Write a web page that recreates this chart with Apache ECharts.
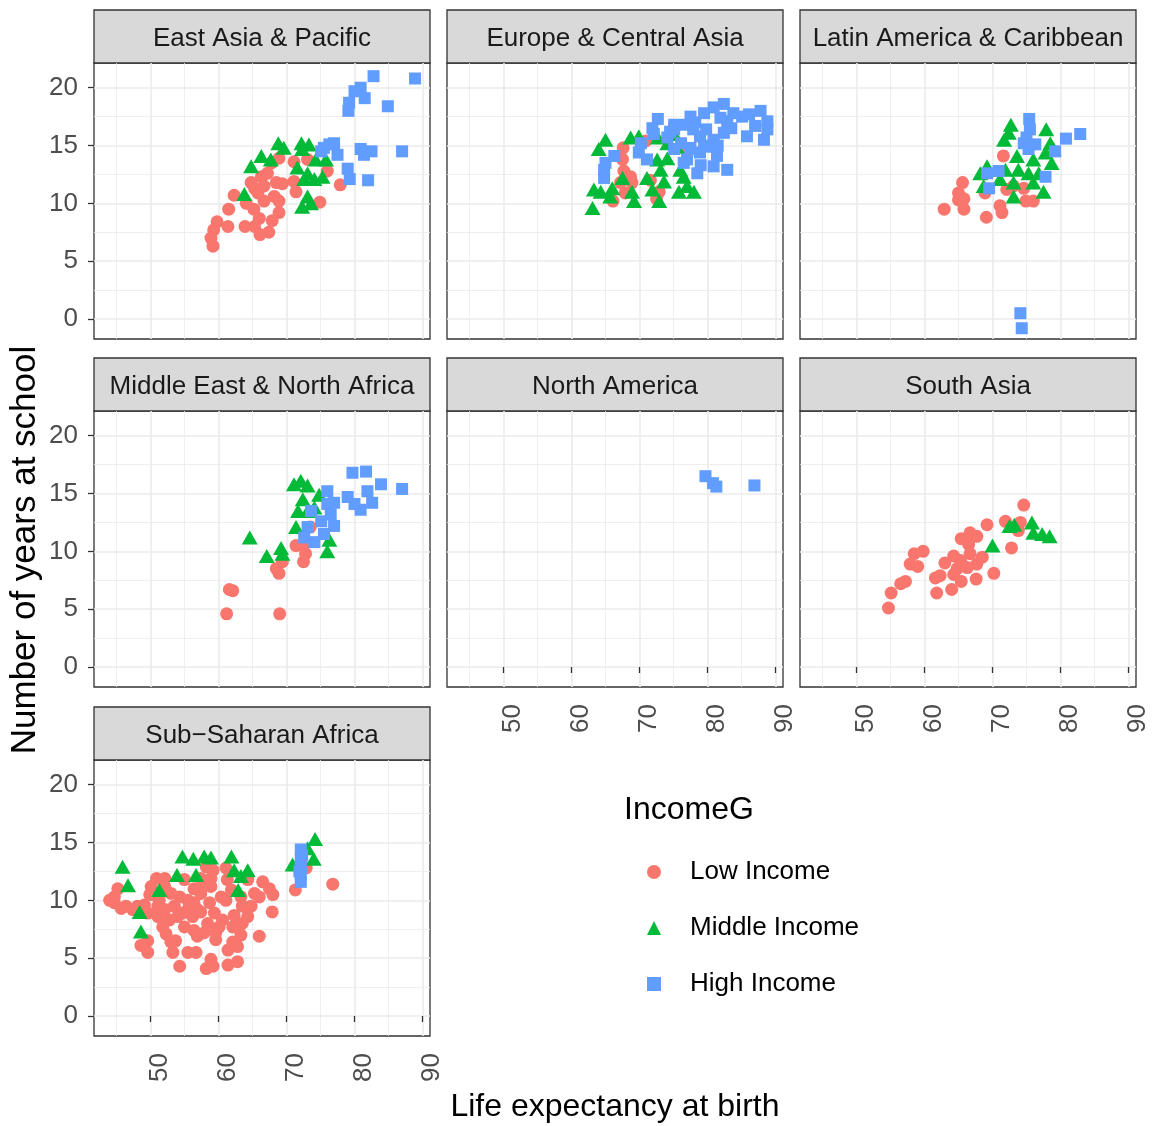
<!DOCTYPE html>
<html>
<head>
<meta charset="utf-8">
<script src="https://cdn.jsdelivr.net/npm/echarts@6/dist/echarts.min.js"></script>
<style>
  html, body { margin: 0; padding: 0; background: #fff; }
  #chart { width: 1155px; height: 1126px; }
</style>
</head>
<body>
<div id="chart"></div>
<script>
// facet labels and groups
var regions = ['East Asia & Pacific', 'Europe & Central Asia', 'Latin America & Caribbean',
               'Middle East & North Africa', 'North America', 'South Asia', 'Sub\u2212Saharan Africa'];
var incomeGroups = ['Low Income', 'Middle Income', 'High Income'];
var xTicks = [50, 60, 70, 80, 90];
var xMinor = [45, 55, 65, 75, 85];
var yTicks = [0, 5, 10, 15, 20];
var yMinor = [2.5, 7.5, 12.5, 17.5];

// [life expectancy, years at school]
var eapLow = [[59.2,6.3],[58.9,7.0],[59.3,7.7],[59.8,8.4],[61.4,8.0],[62.3,10.7],[61.5,9.5],[63.9,8.0],[66.1,7.3],[67.4,7.5],[67.9,8.5],[65.3,8.0],[65.2,9.5],[66.0,8.7],[64.1,10.0],[66.7,10.2],[68.9,9.2],[68.9,10.2],[65.3,11.3],[66.3,12.3],[67.8,13.5],[68.5,11.8],[67.2,12.6],[69.4,11.7],[68.9,13.9],[71.1,13.6],[71.4,11.0],[71.1,11.9],[73.1,13.8],[76.0,12.8],[77.9,11.6],[74.9,10.1],[65.8,10.9],[64.8,11.8],[68.2,10.6],[66.7,11.5]];
var eapMid = [[68.8,15.2],[69.6,14.8],[72.2,15.2],[73.3,15.1],[66.3,14.1],[64.8,13.2],[67.7,13.8],[74.3,13.8],[75.8,13.8],[71.6,13.1],[72.3,14.7],[73.1,12.6],[74.1,12.1],[75.3,12.3],[73.1,10.6],[72.3,9.7],[63.8,10.8],[73.6,10.0],[72.6,12.1]];
var eapHigh = [[82.8,21.0],[88.9,20.8],[80.0,19.7],[80.9,20.0],[81.5,19.1],[79.2,18.7],[79.1,18.0],[84.9,18.4],[76.3,15.1],[77.0,15.2],[75.5,14.8],[77.5,14.2],[80.9,14.7],[81.4,14.2],[82.5,14.5],[87.0,14.5],[79.0,13.0],[79.3,12.1],[82.0,12.0],[75.1,14.5]];

var ecaLow = [[70.9,15.4],[67.6,14.8],[67.5,13.8],[67.7,12.8],[68.7,12.3],[67.2,11.8],[68.9,11.8],[67.9,10.9],[66.1,10.2],[72.5,10.4],[72.9,11.0],[71.6,12.0],[77.1,14.4]];
var ecaMid = [[65.0,15.5],[68.7,15.7],[69.9,15.8],[72.7,15.7],[75.1,16.0],[74.1,15.2],[64.0,14.7],[75.5,14.9],[72.6,13.8],[74.1,13.9],[76.0,12.9],[71.1,12.2],[73.6,11.9],[71.9,11.2],[68.9,11.0],[66.0,11.3],[63.3,11.2],[64.3,11.0],[65.7,10.6],[69.2,10.2],[72.9,10.2],[75.8,11.0],[78.0,11.0],[77.0,11.5],[63.1,9.6],[67.5,12.2],[73.1,12.9],[76.5,12.3]];
var ecaHigh = [[72.7,17.3],[71.9,16.5],[75.1,16.4],[77.5,17.5],[78.2,17.0],[80.9,18.3],[82.4,18.6],[82.9,17.1],[85.1,17.5],[86.1,17.7],[87.8,18.0],[88.8,17.1],[85.8,15.8],[88.3,15.5],[88.8,16.4],[87.0,16.7],[78.9,15.8],[80.4,14.9],[81.4,14.1],[82.9,12.9],[80.9,13.2],[78.5,12.6],[77.0,13.8],[76.1,15.2],[78.9,14.4],[69.9,14.4],[70.2,15.2],[71.1,13.8],[72.1,16.0],[66.3,14.1],[65.0,13.5],[64.8,12.2],[74.1,15.7],[75.1,14.7],[77.9,16.4],[79.8,16.4],[81.9,17.4],[82.4,16.1],[80.9,15.5],[76.5,13.5],[79.5,15.0],[81.5,15.0],[83.5,16.5],[77.5,14.8],[79.0,13.3],[74.5,16.2],[76.8,16.8],[79.5,17.8],[83.8,17.8],[64.8,12.9],[75.1,16.8]];

var lacLow = [[65.6,11.8],[65.0,10.9],[65.8,10.4],[65.0,10.3],[62.9,9.5],[65.8,9.5],[69.1,8.8],[71.1,9.8],[71.4,9.2],[74.9,10.2],[76.0,10.2],[71.6,14.1],[73.1,11.5],[74.6,11.3],[68.9,10.9],[72.1,11.2]];
var lacMid = [[72.7,16.8],[71.7,15.5],[72.4,16.1],[77.9,16.4],[78.5,15.2],[77.8,14.4],[73.6,14.1],[76.0,13.8],[78.7,13.5],[69.2,13.2],[68.2,12.6],[71.9,12.9],[73.8,12.9],[75.3,12.6],[76.8,12.6],[71.1,12.1],[73.1,11.8],[76.0,11.8],[77.5,11.0],[73.1,10.6],[68.7,11.5],[79.0,14.7]];
var lacHigh = [[75.4,17.3],[75.5,16.4],[75.0,15.7],[76.3,15.1],[75.3,14.7],[74.6,15.2],[80.8,15.6],[82.9,16.0],[79.2,14.5],[70.9,12.8],[69.2,12.6],[69.5,11.3],[77.8,12.3],[74.1,0.5],[74.3,-0.8]];

var menaLow = [[73.5,12.1],[71.4,10.5],[72.6,10.6],[72.8,9.8],[72.5,9.1],[69.4,9.1],[68.5,8.5],[68.9,8.1],[61.6,6.7],[62.1,6.6],[61.2,4.6],[69.0,4.6]];
var menaMid = [[71.1,15.8],[72.1,16.1],[73.1,15.7],[74.8,14.9],[72.4,14.5],[71.7,13.5],[74.1,13.8],[71.4,12.1],[64.6,11.2],[69.2,10.3],[67.1,9.6],[69.4,9.8],[76.0,10.0],[76.3,11.0],[73.1,13.5]];
var menaHigh = [[79.7,16.8],[81.7,16.9],[83.9,15.8],[87.0,15.4],[79.0,14.7],[80.9,13.6],[82.6,14.2],[81.9,15.2],[80.0,14.1],[77.0,14.2],[76.0,15.2],[76.5,13.2],[77.0,12.2],[75.5,11.5],[74.1,10.8],[73.1,12.1],[73.6,13.5],[75.1,12.6],[72.6,11.2],[76.0,14.1]];

var naLow = [];
var naMid = [];
var naHigh = [[79.7,16.5],[81.3,15.6],[80.8,15.9],[86.9,15.7]];

var saLow = [[74.6,14.0],[71.9,12.6],[69.2,12.3],[74.1,12.5],[73.8,11.8],[72.8,10.3],[65.4,11.1],[66.7,11.6],[67.7,11.3],[66.5,10.6],[66.7,9.8],[68.5,9.5],[67.7,8.9],[65.3,9.2],[64.3,9.6],[63.0,9.0],[64.8,8.5],[66.3,8.6],[67.6,7.6],[65.4,7.4],[64.0,6.7],[61.8,6.4],[61.6,7.7],[62.3,7.9],[70.2,8.1],[59.8,10.0],[58.5,9.8],[57.9,8.9],[59.0,8.7],[57.2,7.4],[56.5,7.2],[55.1,6.4],[54.7,5.1],[64.3,8.0]];
var saMid = [[70.0,10.5],[72.5,12.2],[73.2,12.3],[75.8,12.5],[76.0,11.6],[77.3,11.5],[78.4,11.3]];
var saHigh = [];

var ssaLow = [[44.0,10.0],[44.7,9.8],[45.2,11.0],[45.7,9.3],[46.4,9.5],[44.7,10.3],[47.4,9.2],[48.1,9.5],[49.1,9.6],[49.6,8.9],[48.6,6.1],[49.6,6.5],[49.6,5.5],[50.1,11.2],[50.9,11.9],[52.1,11.9],[50.4,10.5],[51.3,10.0],[51.1,8.6],[52.1,9.2],[51.8,7.7],[52.3,7.1],[53.0,6.4],[53.7,6.5],[53.3,5.5],[54.3,4.3],[52.8,8.3],[53.5,9.5],[54.3,10.3],[55.0,11.8],[54.7,8.9],[55.5,10.0],[55.5,5.5],[56.7,5.5],[56.2,8.6],[56.4,7.4],[56.9,6.9],[57.4,10.6],[58.2,12.9],[59.2,12.6],[57.9,11.5],[58.7,9.8],[58.4,8.0],[59.6,6.6],[58.2,4.1],[59.2,4.3],[58.9,4.9],[59.4,8.9],[60.4,10.3],[61.1,12.8],[61.3,11.8],[61.1,10.0],[60.6,8.3],[61.4,5.7],[61.4,4.4],[62.8,4.7],[62.1,6.4],[62.8,6.0],[63.3,7.0],[62.1,7.7],[63.5,8.0],[62.3,8.7],[64.3,8.6],[64.8,9.5],[64.3,11.8],[65.3,10.6],[66.0,10.3],[66.5,11.6],[67.5,11.0],[68.0,10.5],[67.9,9.0],[66.0,6.9],[71.3,10.9],[76.8,11.4],[72.9,12.8],[56.4,9.8],[54.0,8.6],[57.4,9.0],[55.0,7.7],[53.0,10.6],[56.4,11.0],[57.4,11.9],[58.9,11.2],[60.1,7.7],[59.6,7.2],[57.9,7.2],[56.9,9.2],[55.5,9.2],[52.1,11.2],[49.9,10.5],[51.1,9.5],[63.3,10.3],[63.5,9.5],[61.9,10.9],[58.9,11.9]];
var ssaMid = [[45.9,12.9],[46.7,11.3],[48.6,7.3],[48.4,9.0],[54.7,13.8],[56.3,13.6],[57.9,13.8],[58.9,13.7],[61.9,13.8],[53.9,12.2],[56.7,12.2],[62.3,12.6],[64.3,12.6],[63.3,12.1],[62.9,10.9],[51.3,10.9],[70.9,13.1],[73.1,14.5],[74.2,15.3],[74.0,13.6]];
var ssaHigh = [[72.1,14.4],[72.1,13.6],[72.1,12.9],[72.1,12.2],[72.1,11.6],[72.3,13.9],[71.9,12.5]];

var panelData = [
    [eapLow, eapMid, eapHigh],
    [ecaLow, ecaMid, ecaHigh],
    [lacLow, lacMid, lacHigh],
    [menaLow, menaMid, menaHigh],
    [naLow, naMid, naHigh],
    [saLow, saMid, saHigh],
    [ssaLow, ssaMid, ssaHigh]
];

var colors = ['#F8766D', '#00BA38', '#619CFF'];
var symbols = ['circle', 'triangle', 'rect'];
var symbolSizes = [13, [16, 14], 12];

var FONT = '"Liberation Sans", Arial, Helvetica, sans-serif';
var xMin = 41.7, xMax = 91.1, yMin = -1.73, yMax = 22.14;
var colLeft = [94, 447, 800], rowTop = [63, 411, 760];
var panelW = 336, panelH = 276, stripH = 53;

var grids = [], xAxes = [], yAxes = [], series = [], graphics = [];

regions.forEach(function (region, i) {
    var left = colLeft[i % 3], top = rowTop[Math.floor(i / 3)];
    var showX = i >= 4;          // bottom panel of each column
    var showY = i % 3 === 0;     // first column

    grids.push({
        left: left, top: top, width: panelW, height: panelH,
        show: true, backgroundColor: '#fff', borderColor: '#333', borderWidth: 1.3,
        outerBoundsMode: 'none'
    });

    // minor grid lines
    xAxes.push({
        type: 'value', gridIndex: i, position: 'bottom', min: xMin, max: xMax,
        axisLine: { show: false }, axisLabel: { show: false },
        axisTick: { show: false, customValues: xMinor },
        splitLine: { show: true, lineStyle: { color: '#EBEBEB', width: 0.8 } }
    });
    yAxes.push({
        type: 'value', gridIndex: i, position: 'left', min: yMin, max: yMax,
        axisLine: { show: false }, axisLabel: { show: false },
        axisTick: { show: false, customValues: yMinor },
        splitLine: { show: true, lineStyle: { color: '#EBEBEB', width: 0.8 } }
    });
    // major axes
    xAxes.push({
        type: 'value', gridIndex: i, position: 'bottom', min: xMin, max: xMax,
        axisLine: { show: false },
        axisTick: { show: showX, length: 6, customValues: xTicks, lineStyle: { color: '#333', width: 1.3 } },
        axisLabel: { show: showX, customValues: xTicks, rotate: 90, margin: 17,
                     verticalAlign: 'top', lineHeight: 19,
                     fontSize: 26, color: '#4D4D4D', fontFamily: FONT },
        splitLine: { show: true, lineStyle: { color: '#EBEBEB', width: 1.6 } }
    });
    yAxes.push({
        type: 'value', gridIndex: i, position: 'left', min: yMin, max: yMax,
        axisLine: { show: false },
        axisTick: { show: showY, length: 6, customValues: yTicks, lineStyle: { color: '#333', width: 1.3 } },
        axisLabel: { show: showY, customValues: yTicks, margin: 16,
                     fontSize: 26, color: '#4D4D4D', fontFamily: FONT },
        splitLine: { show: true, lineStyle: { color: '#EBEBEB', width: 1.6 } }
    });

    panelData[i].forEach(function (pts, g) {
        series.push({
            name: incomeGroups[g], type: 'scatter',
            xAxisIndex: 2 * i + 1, yAxisIndex: 2 * i + 1,
            symbol: symbols[g], symbolSize: symbolSizes[g],
            itemStyle: { color: colors[g], opacity: 1 },
            data: pts, silent: true
        });
    });

    // facet strip
    graphics.push({
        type: 'rect', shape: { x: left, y: top - stripH, width: panelW, height: stripH },
        style: { fill: '#D9D9D9', stroke: '#333', lineWidth: 1.3 }
    });
    graphics.push({
        type: 'text', x: left + panelW / 2, y: top - stripH / 2 + 2,
        style: { text: region, textAlign: 'center', textVerticalAlign: 'middle',
                 fontSize: 26, fill: '#1A1A1A', fontFamily: FONT }
    });
});

graphics.push({
    type: 'text', x: 25, y: 550, rotation: Math.PI / 2,
    style: { text: 'Number of years at school', textAlign: 'center', textVerticalAlign: 'middle',
             fontSize: 35, fill: '#000', fontFamily: FONT }
});
graphics.push({
    type: 'text', x: 615, y: 1107,
    style: { text: 'Life expectancy at birth', textAlign: 'center', textVerticalAlign: 'middle',
             fontSize: 32, fill: '#000', fontFamily: FONT }
});
graphics.push({
    type: 'text', x: 624, y: 810,
    style: { text: 'IncomeG', textAlign: 'left', textVerticalAlign: 'middle',
             fontSize: 32, fill: '#000', fontFamily: FONT }
});

var myChart = echarts.init(document.getElementById('chart'));
var option = {
    animation: false,
    backgroundColor: '#fff',
    grid: grids,
    xAxis: xAxes,
    yAxis: yAxes,
    legend: {
        orient: 'vertical', left: 642, top: 854,
        itemWidth: 14, itemHeight: 14, itemGap: 30,
        symbolKeepAspect: true,
        selectedMode: false,
        data: [
            { name: 'Low Income', icon: 'circle' },
            { name: 'Middle Income', icon: 'triangle' },
            { name: 'High Income', icon: 'rect' }
        ],
        textStyle: { fontSize: 26, lineHeight: 25, color: '#000', fontFamily: FONT,
                     padding: [0, 0, 0, 24] }
    },
    graphic: graphics,
    series: series
};

myChart.setOption(option);
</script>
</body>
</html>
